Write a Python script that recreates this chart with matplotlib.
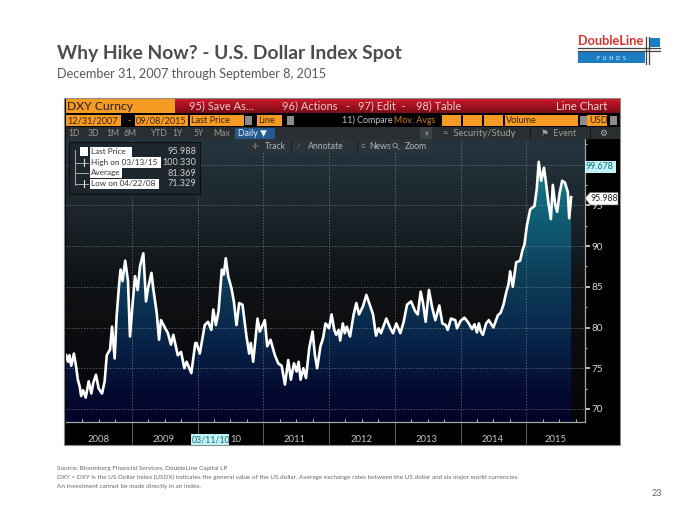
import numpy as np
import matplotlib
matplotlib.use("Agg")
import matplotlib.pyplot as plt
from matplotlib.colors import LinearSegmentedColormap
from matplotlib.patches import Rectangle, Polygon, Circle

plt.rcParams['font.family'] = ['Lato', 'DejaVu Sans']

# ---------- data ----------
years = [2008.00,2008.03,2008.05,2008.08,2008.12,2008.15,2008.18,2008.21,2008.23,2008.26,2008.30,2008.345,
 2008.385,2008.415,2008.456,2008.497,2008.548,2008.588,2008.62,2008.67,2008.70,2008.74,2008.77,2008.81,
 2008.83,2008.86,2008.90,2008.943,2008.973,2009.014,2009.05,2009.09,2009.125,2009.176,2009.217,2009.247,
 2009.30,2009.33,2009.38,2009.415,2009.445,2009.51,2009.55,2009.597,2009.632,2009.70,2009.75,2009.80,
 2009.835,2009.906,2009.967,
 2009.985,2010.035,2010.11,2010.16,2010.21,2010.24,2010.28,2010.32,2010.37,2010.40,2010.43,2010.466,
 2010.517,2010.553,2010.593,2010.634,2010.684,2010.745,2010.786,2010.81,2010.847,2010.913,2010.948,2011.024,
 2011.06,2011.11,2011.177,2011.228,2011.28,2011.33,2011.38,2011.42,2011.467,2011.507,2011.538,2011.568,
 2011.61,2011.65,2011.70,2011.75,2011.786,2011.82,2011.87,2011.91,2011.947,
 2011.97,2012.0,2012.04,2012.08,2012.11,2012.147,2012.17,2012.21,2012.24,2012.27,2012.32,2012.375,
 2012.416,2012.456,2012.517,2012.568,2012.62,2012.67,2012.715,2012.755,2012.79,2012.872,2012.933,2012.973,
 2013.024,2013.085,2013.136,2013.187,2013.248,2013.31,2013.35,2013.394,2013.43,2013.47,2013.52,2013.57,
 2013.617,2013.678,2013.724,2013.775,2013.805,2013.856,2013.92,2013.947,
 2014.0,2014.06,2014.11,2014.177,2014.213,2014.25,2014.28,2014.31,2014.34,2014.39,2014.43,2014.50,
 2014.568,2014.61,2014.654,2014.695,2014.73,2014.755,2014.796,2014.847,2014.907,2014.94,2014.973,2015.01,
 2015.06,2015.125,2015.16,2015.19,2015.227,2015.27,2015.30,2015.34,2015.374,2015.404,2015.44,2015.47,
 2015.506,2015.546,2015.587,2015.633,2015.653,2015.683]
dxy = [76.6,75.8,76.6,75.3,76.8,75.4,73.6,72.7,71.6,72.3,71.4,73.4,
 71.9,73.2,74.2,72.5,71.9,73.4,76.6,77.3,80.1,76.2,81.4,85.5,
 87.1,85.7,88.2,85.7,78.9,83.0,86.3,84.6,87.5,89.1,83.2,84.8,
 86.7,84.6,81.8,78.5,80.9,79.9,79.3,77.9,79.1,76.6,77.0,75.0,
 75.8,74.4,78.1,
 78.1,76.8,80.3,80.7,79.7,82.2,80.3,82.0,87.1,86.5,88.5,86.3,
 84.8,83.2,80.3,83.0,82.8,78.9,76.8,78.1,75.8,81.1,79.5,80.9,
 77.7,78.5,76.6,75.6,75.3,73.0,76.0,73.6,75.6,74.6,75.8,73.6,
 75.0,73.8,77.5,79.5,76.6,75.0,77.7,78.7,80.5,
 80.3,79.9,81.6,79.7,79.1,79.7,78.4,80.5,79.3,80.1,78.9,81.6,
 83.0,81.6,82.6,84.0,82.8,81.6,79.0,79.9,79.3,81.1,79.9,79.3,
 80.5,79.3,80.7,82.8,83.2,82.0,81.6,84.4,83.0,80.7,84.6,82.4,
 80.9,82.7,80.5,80.3,79.7,81.1,80.9,79.9,
 80.8,81.2,80.7,79.8,80.4,79.4,80.5,79.5,79.1,80.5,80.9,80.0,
 81.5,81.8,82.8,84.3,85.3,86.9,85.0,88.0,88.2,89.4,90.2,92.5,
 94.5,94.9,97.0,100.33,98.0,99.6,97.8,95.1,93.3,97.5,95.1,94.2,
 96.4,98.0,97.8,96.6,93.4,95.988]
y_ticks = [70, 75, 80, 85, 90, 95]
grid_levels = [70, 75, 80, 85, 90, 95, 100]
year_lines = [2009, 2010, 2011, 2012, 2013, 2014, 2015]
minor_y = [72.5, 77.5, 82.5, 87.5, 92.5, 97.5, 102.5]
year_labels = ['2008', '2009', '2011', '2012', '2013', '2014', '2015']
year_label_pos = [2008.50, 2009.49, 2011.48, 2012.49, 2013.49, 2014.48, 2015.44]
legend_names = ['Last Price', 'High on 03/13/15', 'Average', 'Low on 04/22/08']
legend_vals = ['95.988', '100.330', '81.369', '71.329']
tabs = ['1D', '3D', '1M', '6M', 'YTD', '1Y', '5Y', 'Max']
tab_x = [74, 93, 113, 130, 158, 178, 199, 222]

W, H = 700, 525
fig = plt.figure(figsize=(7, 5.25), dpi=100, facecolor='white')

def px_axes(l, t, r, b, **kw):
    return fig.add_axes([l / W, 1 - b / H, (r - l) / W, (b - t) / H], **kw)

# ---------- page overlay in pixel coordinates ----------
pg = px_axes(0, 0, W, H, zorder=1)
pg.set_xlim(0, W); pg.set_ylim(H, 0); pg.axis('off')

def rect(x0, y0, x1, y1, c, ax=pg, z=2, **kw):
    ax.add_patch(Rectangle((x0, y0), x1 - x0, y1 - y0, fc=c, ec=kw.pop('ec', 'none'), zorder=z, **kw))

def txt(x, y, s, c='#d0d0d0', size=7, ha='left', va='center', ax=pg, z=6, **kw):
    ax.text(x, y, s, color=c, fontsize=size, ha=ha, va=va, zorder=z, **kw)

GREY = '#4d4d4d'
txt(57, 53, 'Why Hike Now? - U.S. Dollar Index Spot', GREY, 13.9, weight='bold')
txt(57, 74, 'December 31, 2007 through September 8, 2015', '#595959', 9.2)
txt(57, 468.5, 'Source: Bloomberg Financial Services, DoubleLine Capital LP', '#666666', 4.6)
txt(57, 477.5, 'DXY = DXY is the US Dollar Index (USDX) indicates the general value of the US dollar. Average exchange rates between the US dollar and six major world currencies.', '#666666', 4.6)
txt(57, 486.5, 'An investment cannot be made directly in an index.', '#666666', 4.6)
txt(652, 493, '23', '#666666', 6.5)

# logo
txt(578, 41, 'DoubleLine', '#d8322e', 9.2, weight='bold')
rect(578, 52, 645, 63, '#1c7fc4')
rect(649, 38, 660, 47, '#1c7fc4')
txt(611, 58, 'F  U  N  D  S', 'white', 3.8, ha='center')
pg.plot([578, 660], [48, 48], color='#444444', lw=0.9, zorder=4)
pg.plot([578, 660], [51, 51], color='#444444', lw=0.9, zorder=4)
pg.plot([645.5, 645.5], [37, 64], color='#444444', lw=0.9, zorder=4)
pg.plot([648.5, 648.5], [37, 64], color='#444444', lw=0.9, zorder=4)

# terminal frame
rect(64, 98, 620, 445, '#000000', ec='#8a8a8a', lw=0.8)
ORANGE = '#f59a23'
red_grad = LinearSegmentedColormap.from_list('r', ['#c81c2c', '#a40f1e', '#78101a'])
pg.imshow(np.linspace(0, 1, 32)[:, None], cmap=red_grad, extent=(175, 620, 113, 99), aspect='auto', zorder=2.5)
pg.set_xlim(0, W); pg.set_ylim(H, 0)
rect(66, 99, 175, 113, ORANGE, z=3)
txt(67, 106.5, 'DXY Curncy', '#222222', 8.7)
for x, s in [(189, '95) Save As...'), (282, '96) Actions   -'), (358, '97) Edit  -'), (416, '98) Table')]:
    txt(x, 106, s, '#f0c8c8', 7.9)
txt(556, 106, 'Line Chart', '#f0d0d0', 8.2)
# second row
for x0, x1 in [(66, 121), (135, 188), (190, 244), (257, 282), (442, 461), (463, 482), (484, 503), (505, 578), (587, 607)]:
    rect(x0, 115, x1, 126, ORANGE, z=3)
txt(67.5, 120.5, '12/31/2007', '#3a2500', 6.6)
txt(127, 120.5, '-', '#f59a23', 6.6)
txt(136, 120.5, '09/08/2015', '#3a2500', 6.6)
txt(191, 120.5, 'Last Price', '#3a2500', 6.6)
txt(258, 120.5, 'Line', '#3a2500', 6.6)
txt(342, 120.5, '11) Compare', '#c8c8c8', 6.4)
txt(394, 120.5, 'Mov. Avgs', '#d07f10', 6.4)
txt(506, 120.5, 'Volume', '#3a2500', 6.6)
txt(589, 120.5, 'USD', '#3a2500', 6.6)
for x0 in (245, 287, 580, 610):
    rect(x0, 116, x0 + 7, 125, '#8c8c8c', z=3)
# third row
rect(66, 127, 620, 139, '#2a2e30', z=3)
for x, s in zip(tab_x, tabs):
    txt(x, 133, s, '#9a9a9a', 6.2, ha='center')
rect(235, 127.5, 275, 139, '#23598f', z=3.5)
txt(238, 133, 'Daily \u25BC', '#e6eef5', 6.4)
rect(420, 127, 432, 139, '#3e4245', z=3.5)
txt(426, 133, '\u00AB', '#c0c0c0', 6.4, ha='center')
txt(443, 133, '\u2248  Security/Study', '#a0a0a0', 6.8)
pg.plot([530, 530], [128, 138], color='#141414', lw=0.7, zorder=4)
txt(541, 133, '\u2691  Event', '#a0a0a0', 6.4)
pg.plot([590, 590], [128, 138], color='#141414', lw=0.7, zorder=4)
txt(603, 133, '\u2699', '#b0b0b0', 6.4, ha='center')

# ---------- chart axes ----------
ax = px_axes(66, 139, 585, 422, zorder=3)
x0 = 2008.0; x1 = 2008.0 + (585 - 66) / 65.75
y0 = 70 + (409 - 422) / 8.15; y1 = 70 + (409 - 139) / 8.15
ax.set_xlim(x0, x1); ax.set_ylim(y0, y1)
bg = LinearSegmentedColormap.from_list('bg', [(0, '#050508'), (0.25, '#0a0b0e'), (0.5, '#101315'), (0.72, '#1a2329'), (1, '#25353f')])
ax.imshow(np.linspace(0, 1, 256)[:, None], origin='lower', cmap=bg, extent=(x0, x1, y0, y1), aspect='auto', zorder=0)
fill = LinearSegmentedColormap.from_list('fill', [(0, '#03032a'), (0.1, '#040a30'), (0.3, '#08264a'), (0.5, '#0d3c58'), (0.7, '#0f5a70'), (0.88, '#15788a'), (1, '#15788a')])
im = ax.imshow(np.linspace(0, 1, 256)[:, None], origin='lower', cmap=fill, extent=(x0, x1, y0, y1), aspect='auto', zorder=1)
verts = [(years[0], y0)] + list(zip(years, dxy)) + [(years[-1], y0)]
poly = Polygon(verts, closed=True, transform=ax.transData, fc='none', ec='none')
ax.add_patch(poly)
im.set_clip_path(poly)
for g in grid_levels:
    ax.axhline(g, color='#8a8f92', lw=0.6, ls=(0, (1.5, 2)), alpha=0.75, zorder=2)
for yl in year_lines:
    ax.axvline(yl, color='#8a8f92', lw=0.6, ls=(0, (1.5, 2)), alpha=0.75, zorder=2)
ax.plot(years, dxy, color='white', lw=1.9, solid_joinstyle='round', zorder=3)
for s in ('top', 'left'):
    ax.spines[s].set_visible(False)
for s in ('right', 'bottom'):
    ax.spines[s].set_color('#a5a5a5'); ax.spines[s].set_linewidth(0.9)
ax.set_xticks(year_lines)
ax.set_xticklabels([])
ax.set_xticks([2008 + i / 4 for i in range(32) if i % 4], minor=True)
ax.tick_params(axis='x', which='major', length=16, direction='out', color='#5a5a5a', width=0.8)
ax.tick_params(axis='x', which='minor', length=2, direction='in', color='#c0c0c0', width=0.7)
ax.yaxis.tick_right()
ax.set_yticks(y_ticks)
ax.set_yticklabels([str(v) for v in y_ticks], color='#d8d8d8', fontsize=7.2)
ax.set_yticks(minor_y, minor=True)
ax.tick_params(axis='y', which='major', length=3.5, width=1.2, direction='out', color='#e0e0e0', pad=1)
ax.tick_params(axis='y', which='minor', length=1.5, width=0.7, direction='out', color='#c0c0c0')

# year labels
ybase = y0 - 18 / 8.15
for yr, s in zip(year_label_pos, year_labels):
    ax.text(yr, ybase, s, color='#c4c4c4', fontsize=6.8, ha='center', va='center', clip_on=False)

# ---------- overlay on top of the chart ----------
ov = px_axes(0, 0, W, H, zorder=5)
ov.set_xlim(0, W); ov.set_ylim(H, 0); ov.axis('off'); ov.patch.set_alpha(0)

# toolbar
rect(247, 140, 430, 153, '#2b3238', ax=ov)
for xs in (291, 357, 388):
    ov.plot([xs, xs], [141, 152], color='#1a1f22', lw=0.7, zorder=3)
txt(252, 146.5, '\u271B', '#8a9096', 5.8, ax=ov)
txt(265, 146.5, 'Track', '#b0b5b8', 6.2, ax=ov)
txt(296, 146.5, '\u2215', '#8a9096', 5.8, ax=ov)
txt(308, 146.5, 'Annotate', '#b0b5b8', 6.2, ax=ov)
txt(360, 146.5, '\u2261', '#8a9096', 5.8, ax=ov)
txt(369, 146.5, 'News', '#b0b5b8', 6.2, ax=ov)
ov.add_patch(Circle((395, 145.5), 2.2, fc='none', ec='#8a9096', lw=0.7, zorder=3))
ov.plot([396.6, 399], [147.1, 149.5], color='#8a9096', lw=0.7, zorder=3)
txt(405, 146.5, 'Zoom', '#b0b5b8', 6.2, ax=ov)

# legend panel
ov.add_patch(Rectangle((69, 142), 131, 52, fc='#1d262c', ec='#0c0f11', lw=0.8, zorder=2))
rect(80, 147, 88, 156, 'white', ax=ov, z=3)
ys = [152, 162.5, 173, 184]
widths = [42, 71, 32, 69]
for yy, name, val, w in zip(ys, legend_names, legend_vals, widths):
    rect(90, yy - 5.2, 90 + w, yy + 5.2, 'white', ax=ov, z=3)
    txt(91, yy, name, '#30303a', 5.9, ax=ov)
    txt(196, yy, val, '#d0d0d0', 6.6, ha='right', ax=ov)
ov.plot([75, 75], [150, 185], color='#c0c0c0', lw=0.6, zorder=3)
for yy in ys[1:]:
    ov.plot([75, 88], [yy, yy], color='#c0c0c0', lw=0.6, zorder=3)
ov.plot([84, 84], [159, 166], color='#e0e0e0', lw=0.8, zorder=3)
ov.plot([84, 84], [180, 187], color='#e0e0e0', lw=0.8, zorder=3)

# value flags
rect(585, 160.5, 616, 172.5, '#bff3f8', ax=ov)
txt(586, 166.5, '99.678', '#206a70', 6.4, ax=ov)
ov.add_patch(Polygon([(585, 198), (590, 192.5), (618, 192.5), (618, 205), (590, 205)], fc='white', ec='#666666', lw=0.4, zorder=3))
txt(590.5, 198.7, '95.988', '#222222', 6.3, ax=ov)

# date flag on the x axis
rect(191, 434, 229, 445, '#bff3f8', ax=ov)
txt(192, 440, '03/11/10', '#206a70', 6.3, ax=ov)
txt(230, 440, '10', '#c4c4c4', 6.8, ax=ov)

fig.savefig('out.png', dpi=100, facecolor='white')
